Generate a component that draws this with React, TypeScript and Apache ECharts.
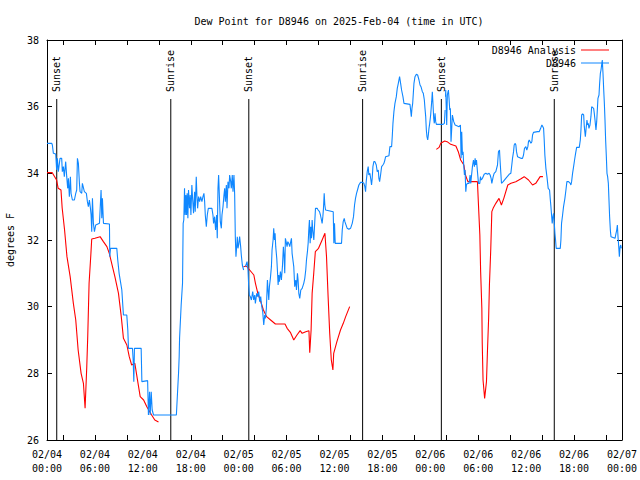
import React, { useEffect, useRef } from "react";
import * as echarts from "echarts";

const FONT = "DejaVu Sans Mono";

const titleText = "Dew Point for D8946 on 2025-Feb-04 (time in UTC)";
const yAxisName = "degrees F";
const seriesNames = ["D8946 Analysis", "D8946"];

// x axis in hours since 02/04 00:00 UTC
const xLabelHours = [0, 6, 12, 18, 24, 30, 36, 42, 48, 54, 60, 66, 72];
const xLabelTexts = [
  "02/04\n00:00", "02/04\n06:00", "02/04\n12:00", "02/04\n18:00",
  "02/05\n00:00", "02/05\n06:00", "02/05\n12:00", "02/05\n18:00",
  "02/06\n00:00", "02/06\n06:00", "02/06\n12:00", "02/06\n18:00",
  "02/07\n00:00",
];
const xTickHours = [2, 6, 10, 14, 18, 22, 26, 30, 34, 38, 42, 46, 50, 54, 58, 62, 66, 70];

const sunTimes = [1.22, 15.5, 25.27, 39.52, 49.38, 63.52];
const sunLabels = ["Sunset", "Sunrise", "Sunset", "Sunrise", "Sunset", "Sunrise"];

// D8946 Analysis (red), three segments
const redSeg1: number[][] = [
  [0, 34.02], [0.66, 34.02], [1.2, 33.8], [1.4, 33.55], [1.75, 33.5], [1.9, 32.96], [2.2, 32.3],
  [2.5, 31.5], [2.9, 30.9], [3.3, 30.1], [3.6, 29.6], [3.9, 28.7], [4.27, 28.0], [4.56, 27.7],
  [4.77, 26.95], [4.98, 28.2], [5.1, 29.1], [5.27, 30.7], [5.5, 31.6], [5.6, 32.03], [6.0, 32.05],
  [6.65, 32.1], [7.06, 31.95], [7.5, 31.8], [7.8, 31.6], [8.1, 31.3], [8.5, 30.9], [8.95, 30.4],
  [9.3, 29.7], [9.57, 29.05], [10.0, 28.85], [10.3, 28.5], [10.6, 28.25], [11.0, 28.3], [11.4, 27.7],
  [11.67, 27.3], [12.1, 27.2], [12.5, 27.0], [13.1, 26.75], [13.5, 26.6], [13.96, 26.54],
];
const redSeg2: number[][] = [
  [24.6, 31.2], [24.96, 31.22], [25.9, 30.95], [26.1, 30.7], [26.4, 30.4], [26.7, 30.2], [27.1, 29.9],
  [27.5, 29.7], [28.0, 29.6], [28.6, 29.48], [29.8, 29.48], [30.07, 29.35], [30.5, 29.22], [30.9, 29.0],
  [31.3, 29.15], [31.7, 29.28], [31.95, 29.2], [32.4, 29.25], [32.8, 29.28], [32.9, 28.62], [33.07, 29.3],
  [33.2, 30.4], [33.4, 31.0], [33.6, 31.65], [34.0, 31.75], [34.45, 32.0], [34.8, 32.2], [35.0, 31.5],
  [35.2, 30.3], [35.4, 29.2], [35.6, 28.4], [35.8, 28.1], [35.9, 28.6], [36.3, 28.95], [36.75, 29.3],
  [37.1, 29.5], [37.4, 29.7], [37.9, 30.0],
];
const redSeg3: number[][] = [
  [48.75, 34.72], [49.1, 34.78], [49.3, 34.9], [49.8, 34.97], [50.1, 34.95], [50.55, 34.87], [51.2, 34.82],
  [51.5, 34.65], [51.8, 34.4], [52.2, 34.25], [52.4, 33.95], [52.7, 33.75], [53.9, 33.75], [54.0, 33.2],
  [54.2, 32.15], [54.3, 31.05], [54.45, 29.95], [54.5, 28.9], [54.6, 27.8], [54.8, 27.25], [55.03, 27.75],
  [55.15, 28.65], [55.3, 29.65], [55.4, 30.65], [55.57, 31.75], [55.7, 32.85], [55.86, 32.95], [56.2, 33.1],
  [56.6, 33.25], [56.9, 33.05], [57.2, 33.25], [57.7, 33.65], [58.1, 33.7], [58.7, 33.75], [59.3, 33.83],
  [59.75, 33.9], [60.3, 33.8], [60.8, 33.65], [61.2, 33.7], [61.75, 33.9], [62.1, 33.9],
];

// D8946 observations (blue)
const blueDay1: number[][] = [
  [0, 34.9], [0.6, 34.9], [0.67, 34.85], [0.8, 34.6], [1.09, 34.58], [1.21, 34.1], [1.3, 34.45], [1.42, 34.05],
  [1.63, 34.45], [1.84, 34.45], [1.92, 34.05], [2.05, 34.2], [2.17, 33.9], [2.34, 34.35], [2.47, 33.9],
  [2.59, 33.55], [2.68, 33.85], [2.8, 33.3], [2.93, 33.9], [3.01, 33.4], [3.18, 33.2], [3.43, 33.2],
  [3.6, 33.4], [3.72, 33.5], [3.81, 34.45], [3.93, 34.3], [4.06, 33.7], [4.14, 33.45], [4.35, 33.4],
  [4.43, 33.7], [4.68, 33.45], [4.93, 33.4], [5.06, 33.15], [5.18, 33.0], [5.31, 33.2], [5.44, 32.95],
  [5.52, 32.75], [5.6, 32.25], [5.69, 33.25], [5.81, 32.5], [5.94, 32.25], [6.1, 32.45], [6.57, 32.5],
  [6.77, 33.5], [6.86, 32.65], [6.94, 33.25], [7.07, 32.5], [7.82, 32.48], [7.86, 31.5], [7.95, 31.75],
  [8.74, 31.75], [8.86, 31.4], [9.03, 31.0], [9.2, 30.75], [9.37, 30.5], [9.57, 29.75], [9.99, 29.75],
  [10.12, 29.3], [10.2, 28.75], [10.7, 28.75], [10.79, 28.4], [10.87, 27.75], [10.95, 28.75], [11.79, 28.75],
  [11.88, 27.75], [12.6, 27.78], [12.7, 26.75], [12.84, 27.45], [12.92, 26.75], [13.05, 27.45], [13.17, 26.9],
  [13.34, 26.75], [16.2, 26.75], [16.35, 27.45], [16.47, 28.0], [16.55, 28.5], [16.6, 29.05], [16.8, 30.05],
  [16.97, 30.7], [17.05, 32.5], [17.13, 32.6], [17.22, 33.55], [17.3, 32.75], [17.39, 33.35], [17.47, 32.75],
  [17.55, 33.4], [17.64, 32.65], [17.72, 33.5], [17.85, 32.95], [17.93, 33.35], [18.02, 32.75], [18.14, 33.65],
  [18.23, 33.25], [18.35, 32.8], [18.48, 33.45], [18.56, 32.85], [18.69, 33.9], [18.77, 33.35], [18.86, 32.95],
  [18.98, 33.3], [19.11, 33.15], [19.24, 33.3], [19.4, 33.15], [19.53, 33.3], [19.65, 33.4], [19.74, 33.15],
  [19.82, 32.75], [19.95, 32.4], [20.07, 32.75], [20.2, 32.95], [20.65, 32.95], [20.78, 32.75], [20.86, 32.5],
  [20.99, 32.7], [21.11, 32.3], [21.24, 32.75], [21.32, 32.05], [21.41, 33.55], [21.49, 33.95], [21.58, 33.35],
  [21.7, 32.55], [21.83, 32.35], [21.91, 32.75], [22.04, 33.0], [22.16, 33.35], [22.25, 33.55], [22.33, 33.15],
  [22.46, 33.65], [22.54, 32.95], [22.66, 33.75], [22.79, 33.55], [22.87, 33.95], [23.0, 33.75], [23.08, 33.55],
  [23.2, 33.95], [23.29, 33.45], [23.41, 33.95], [23.5, 33.35], [23.58, 32.1], [23.66, 31.5], [23.75, 31.8],
  [23.83, 32.1], [23.91, 31.75], [24.0, 31.85], [24.12, 32.1], [24.25, 31.8], [24.33, 31.55], [24.46, 31.25],
  [24.62, 31.1],
];
const blueDay2: number[][] = [
  [24.84, 31.2], [25.05, 31.35], [25.17, 31.1], [25.25, 30.65], [25.34, 30.35], [25.46, 30.3], [25.59, 30.2],
  [25.76, 30.45], [25.88, 30.2], [26.01, 30.35], [26.09, 30.1], [26.26, 30.4], [26.38, 30.3], [26.51, 30.45],
  [26.63, 30.15], [26.76, 30.3], [26.84, 30.1], [26.93, 29.95], [27.01, 29.85], [27.14, 29.45], [27.26, 29.75],
  [27.35, 29.65], [27.47, 29.95], [27.6, 30.8], [27.68, 30.5], [27.77, 30.2], [27.85, 30.6], [27.97, 30.85],
  [28.1, 31.2], [28.18, 31.7], [28.31, 32.0], [28.39, 32.35], [28.48, 32.0], [28.56, 32.2], [28.64, 31.8],
  [28.77, 31.45], [28.85, 31.1], [28.94, 30.65], [29.02, 30.95], [29.1, 30.75], [29.23, 31.05], [29.35, 30.8],
  [29.48, 31.2], [29.6, 31.8], [29.69, 31.5], [29.77, 31.0], [29.85, 32.05], [29.94, 31.95], [30.06, 31.8],
  [30.15, 31.95], [30.27, 31.9], [30.4, 31.8], [30.52, 31.95], [30.61, 32.05], [30.69, 31.6], [30.82, 31.35],
  [30.9, 31.2], [31.02, 30.6], [31.15, 30.8], [31.24, 30.5], [31.36, 31.0], [31.44, 30.8], [31.53, 30.4],
  [31.65, 30.25], [31.78, 30.5], [31.95, 30.55], [32.15, 30.7], [32.28, 30.85], [32.4, 31.1], [32.49, 31.4],
  [32.61, 31.65], [32.7, 31.9], [32.78, 32.3], [32.86, 32.6], [32.95, 31.9], [33.03, 32.4], [33.12, 32.05],
  [33.2, 32.6], [33.28, 32.3], [33.41, 32.0], [33.54, 32.6], [33.62, 32.95], [33.83, 32.95], [33.95, 32.9],
  [34.12, 32.85], [34.24, 32.75], [34.37, 32.6], [34.45, 32.5], [34.54, 32.7], [34.62, 32.95], [34.71, 33.4],
  [34.79, 33.05], [34.88, 32.9], [35.29, 32.88], [35.84, 32.85], [35.92, 31.9], [36.0, 32.5], [36.09, 31.9],
  [36.88, 31.9], [36.97, 32.3], [37.09, 32.55], [37.22, 32.65], [37.3, 32.55], [37.38, 32.55], [37.59, 32.35],
  [37.8, 32.32], [38.01, 32.35], [38.22, 32.5], [38.38, 32.7], [38.51, 33.05], [38.63, 33.25], [38.76, 33.4],
  [38.88, 33.5], [39.05, 33.65], [39.26, 33.73], [39.47, 33.73], [39.68, 33.7], [39.8, 33.6], [39.89, 33.45],
  [39.97, 33.75], [40.1, 34.05], [40.22, 34.2], [40.3, 33.95], [40.43, 34.0], [40.56, 33.8], [40.64, 33.65],
  [40.72, 33.85], [40.81, 34.2], [40.93, 34.35], [41.06, 34.35], [41.23, 34.25], [41.35, 34.05], [41.48, 34.1],
  [41.56, 33.85], [41.65, 33.75], [41.77, 33.95], [41.9, 34.2], [42.06, 34.25], [42.19, 34.3], [42.31, 34.4],
  [42.4, 34.5], [42.82, 34.53], [42.94, 34.8], [43.15, 34.8], [43.23, 35.1], [43.32, 35.5], [43.44, 35.85],
  [43.57, 36.1], [43.74, 36.3], [43.86, 36.55], [43.99, 36.7], [44.15, 36.9], [44.28, 36.7], [44.4, 36.5],
  [44.57, 36.3], [44.7, 36.1], [45.45, 36.07], [45.53, 35.9], [45.62, 35.7], [45.7, 35.95], [45.79, 36.1],
  [45.87, 36.4], [45.95, 36.7], [46.08, 36.9], [46.25, 36.97], [46.41, 36.95], [46.58, 36.8], [46.71, 36.65],
  [46.83, 36.6], [47.0, 36.45], [47.12, 36.4], [47.25, 36.2], [47.33, 35.95], [47.42, 35.7], [47.5, 35.3],
  [47.58, 35.1], [47.67, 35.0], [47.75, 35.15], [47.83, 35.35], [47.92, 35.5], [48.04, 35.75], [48.17, 36.15],
  [48.25, 36.45], [48.34, 36.05], [48.42, 35.65], [48.5, 35.5], [48.59, 35.8], [48.67, 35.55], [48.76, 35.47],
  [49.3, 35.47], [49.59, 35.47], [49.76, 35.5], [49.85, 35.9],
];
const blueDay3: number[][] = [
  [49.9, 36.3], [49.93, 36.5], [50.05, 35.45], [50.13, 36.35], [50.26, 36.5], [50.34, 36.25], [50.43, 35.9],
  [50.51, 35.95], [50.59, 34.95], [50.68, 35.35], [50.76, 35.75], [50.93, 35.55], [51.1, 35.45], [51.6, 35.4],
  [51.77, 35.45], [51.85, 34.45], [51.93, 35.25], [52.02, 34.55], [52.1, 34.65], [52.18, 34.25], [52.27, 33.95],
  [52.35, 34.1], [52.44, 33.45], [52.52, 33.65], [52.64, 33.7], [52.85, 33.7], [52.98, 33.95], [53.06, 33.7],
  [53.27, 34.2], [53.4, 34.4], [53.52, 34.2], [53.61, 34.45], [53.69, 34.25], [53.78, 34.4], [53.9, 34.05],
  [54.03, 33.7], [54.19, 33.7], [54.28, 33.9], [54.36, 33.8], [54.53, 33.85], [54.74, 33.97], [54.95, 34.0],
  [55.15, 33.97], [55.36, 34.0], [55.49, 33.95], [55.61, 33.85], [55.7, 33.7], [55.87, 33.9], [55.99, 34.0],
  [56.2, 34.05], [56.41, 34.25], [56.53, 34.65], [56.66, 34.7], [56.74, 34.35], [56.83, 34.0], [56.91, 33.7],
  [57.12, 33.75], [57.45, 33.85], [57.87, 33.97], [58.08, 34.0], [58.2, 34.25], [58.29, 34.45], [58.42, 34.65],
  [58.5, 34.85], [58.63, 34.9], [58.71, 34.85], [58.79, 34.65], [58.92, 34.5], [59.34, 34.45], [59.54, 34.45],
  [59.67, 34.55], [59.79, 34.75], [59.96, 34.8], [60.08, 34.7], [60.21, 34.8], [60.29, 34.95], [60.38, 35.0],
  [60.5, 34.95], [60.59, 34.9], [60.71, 34.95], [60.8, 35.15], [60.92, 35.23], [61.42, 35.25], [61.63, 35.25],
  [61.84, 35.37], [61.97, 35.45], [62.09, 35.4], [62.18, 35.35], [62.26, 35.0], [62.34, 34.55], [62.47, 34.15],
  [62.6, 33.9], [62.76, 33.55], [62.93, 33.5], [63.01, 33.25], [63.1, 33.0], [63.18, 32.75], [63.26, 32.5],
  [63.35, 32.7], [63.43, 32.8], [63.51, 32.55], [63.6, 32.2], [63.68, 32.0], [63.76, 31.75], [64.27, 31.75],
  [64.35, 32.0], [64.43, 32.5], [64.56, 32.75], [64.68, 33.0], [64.85, 33.25], [64.98, 33.5], [65.1, 33.75],
  [65.31, 33.75], [65.52, 33.7], [65.6, 33.65], [65.69, 33.75], [65.81, 34.0], [65.94, 34.2], [66.06, 34.4],
  [66.19, 34.6], [66.32, 34.78], [66.65, 34.78], [66.78, 35.0], [66.86, 35.3], [66.95, 35.75], [67.07, 35.78],
  [67.2, 35.75], [67.28, 35.4], [67.41, 35.1], [67.49, 35.3], [67.61, 35.6], [67.7, 35.45], [67.78, 35.5],
  [67.86, 35.35], [67.99, 35.45], [68.11, 35.7], [68.2, 36.0], [68.45, 35.95], [68.53, 35.8], [68.62, 35.6],
  [68.74, 35.3], [68.83, 35.55], [68.91, 35.9], [68.99, 36.25], [69.12, 36.35], [69.2, 36.7], [69.29, 37.0],
  [69.37, 37.1], [69.45, 37.25], [69.53, 37.4], [69.62, 37.0], [69.7, 36.55], [69.79, 36.1], [69.87, 35.6],
  [69.95, 35.0], [70.04, 34.5], [70.12, 34.0], [70.2, 33.9], [70.29, 33.7], [70.37, 33.2], [70.45, 32.7],
  [70.54, 32.3], [70.62, 32.1], [71.13, 32.05], [71.25, 32.2], [71.34, 32.3], [71.42, 32.45], [71.5, 32.1],
  [71.59, 31.8], [71.67, 31.5], [71.76, 31.8], [71.84, 31.85], [71.92, 31.75],
];

const RED = "#ff0000";
const BLUE = "#0f87ff";
const SUN_LINE_TOP = 36.23;

export default function App() {
  const ref = useRef<HTMLDivElement>(null);

  useEffect(() => {
    document.body.style.margin = "0";
    if (!ref.current) return;
    const chart = echarts.init(ref.current, undefined, { renderer: "svg" });

    const axisLineStyle = { color: "#000", width: 1 };
    const lineSeries = (name: string, data: number[][], color: string) => ({
      name,
      type: "line",
      data,
      xAxisIndex: 0,
      yAxisIndex: 0,
      showSymbol: false,
      symbol: "none",
      lineStyle: { color, width: 1.1 },
      itemStyle: { color },
      emphasis: { disabled: true },
      silent: true,
    });

    const option: any = {
      animation: false,
      backgroundColor: "#ffffff",
      textStyle: { fontFamily: FONT },
      title: {
        text: titleText,
        left: 334,
        top: 11,
        textAlign: "center",
        textStyle: { fontFamily: FONT, fontSize: 10, fontWeight: "normal", color: "#000" },
      },
      legend: {
        data: seriesNames,
        orient: "vertical",
        right: 31,
        top: 45,
        align: "right",
        icon: "rect",
        itemWidth: 28,
        itemHeight: 1,
        itemGap: 3,
        padding: 0,
        selectedMode: false,
        textStyle: { fontFamily: FONT, fontSize: 10, color: "#000" },
      },
      grid: { left: 47, right: 18, top: 40, bottom: 40, containLabel: false, outerBoundsMode: "none" },
      xAxis: [
        {
          type: "value",
          min: 0,
          max: 72,
          position: "bottom",
          axisLine: { show: true, onZero: false, lineStyle: axisLineStyle },
          axisTick: { show: true, inside: true, length: 5, customValues: xTickHours, lineStyle: axisLineStyle },
          axisLabel: {
            customValues: xLabelHours,
            formatter: (v: number) => {
              const i = xLabelHours.indexOf(Math.round(v));
              return i >= 0 ? xLabelTexts[i] : "";
            },
            fontFamily: FONT,
            fontSize: 10,
            color: "#000",
            lineHeight: 14,
            margin: 7,
          },
          splitLine: { show: false },
        },
        {
          type: "value",
          min: 0,
          max: 72,
          position: "top",
          axisLine: { show: true, onZero: false, lineStyle: axisLineStyle },
          axisTick: { show: true, inside: true, length: 5, customValues: xTickHours, lineStyle: axisLineStyle },
          axisLabel: { show: false },
          splitLine: { show: false },
        },
      ],
      yAxis: [
        {
          type: "value",
          min: 26,
          max: 38,
          interval: 2,
          position: "left",
          name: yAxisName,
          nameLocation: "middle",
          nameRotate: 90,
          nameGap: 32,
          nameTextStyle: { fontFamily: FONT, fontSize: 10, color: "#000" },
          axisLine: { show: true, onZero: false, lineStyle: axisLineStyle },
          axisTick: { show: true, inside: true, length: 5, lineStyle: axisLineStyle },
          axisLabel: { fontFamily: FONT, fontSize: 10, color: "#000", margin: 8 },
          splitLine: { show: false },
        },
        {
          type: "value",
          min: 26,
          max: 38,
          interval: 2,
          position: "right",
          axisLine: { show: true, onZero: false, lineStyle: axisLineStyle },
          axisTick: { show: true, inside: true, length: 5, lineStyle: axisLineStyle },
          axisLabel: { show: false },
          splitLine: { show: false },
        },
      ],
      series: [
        {
          name: "sun",
          type: "custom",
          xAxisIndex: 0,
          yAxisIndex: 0,
          silent: true,
          clip: false,
          data: sunTimes.map((t, i) => [t, i]),
          renderItem: (params: any, api: any) => {
            const t = api.value(0);
            const idx = api.value(1);
            const top = api.coord([t, SUN_LINE_TOP]);
            const bottom = api.coord([t, 26]);
            return {
              type: "group",
              children: [
                {
                  type: "line",
                  shape: { x1: top[0], y1: top[1], x2: bottom[0], y2: bottom[1] },
                  style: { stroke: "#000", lineWidth: 1 },
                },
                {
                  type: "text",
                  x: top[0],
                  y: top[1] - 7,
                  rotation: Math.PI / 2,
                  style: {
                    text: sunLabels[idx],
                    fill: "#000",
                    font: `10px "${FONT}"`,
                    align: "left",
                    verticalAlign: "middle",
                  },
                },
              ],
            };
          },
        },
        lineSeries(seriesNames[0], redSeg1, RED),
        lineSeries(seriesNames[0], redSeg2, RED),
        lineSeries(seriesNames[0], redSeg3, RED),
        lineSeries(seriesNames[1], blueDay1, BLUE),
        lineSeries(seriesNames[1], blueDay2, BLUE),
        lineSeries(seriesNames[1], blueDay3, BLUE),
      ],
    };

    chart.setOption(option);
    return () => chart.dispose();
  }, []);

  return <div ref={ref} style={{ width: 640, height: 480 }} />;
}
